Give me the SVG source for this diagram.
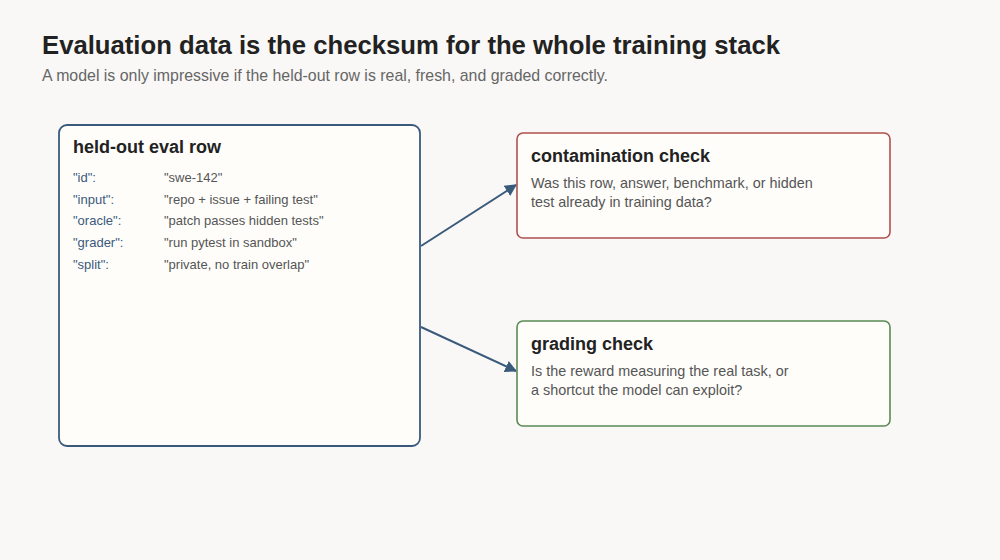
<svg xmlns="http://www.w3.org/2000/svg" width="1000" height="560" viewBox="0 0 1000 560">
<style>
text{font-family:"Liberation Sans",Arial,sans-serif}
.h{font-size:18px;font-weight:bold;fill:#222}
.k{font-size:13px;fill:#3a5a7c}
.v{font-size:13px;fill:#555}
.b{font-size:14.4px;fill:#555}
.e{stroke:#3a5a7c;stroke-width:2;fill:none;marker-end:url(#a)}
</style>
<defs><marker id="a" viewBox="0 0 10 10" refX="9" refY="5" markerWidth="6" markerHeight="6" orient="auto"><path d="M0,0L10,5L0,10z" fill="#3a5a7c"/></marker></defs>
<rect width="1000" height="560" fill="#f9f8f6"/>
<text x="42" y="54" style="font-size:25.7px;font-weight:bold;fill:#222">Evaluation data is the checksum for the whole training stack</text>
<text x="42" y="81" style="font-size:15.9px;fill:#666">A model is only impressive if the held-out row is real, fresh, and graded correctly.</text>
<g id="connectors">
<path class="e" d="M421,246L516,185"/>
<path class="e" d="M421,327L516,371"/>
</g>
<g id="row">
<rect x="59" y="125" width="361" height="321" rx="8" fill="#fefdfa" stroke="#3a5a7c" stroke-width="1.8"/>
<text x="73" y="153" class="h">held-out eval row</text>
<text x="73" y="182" class="k">"id":</text><text x="164" y="182" class="v">"swe-142"</text>
<text x="73" y="204" class="k">"input":</text><text x="164" y="204" class="v">"repo + issue + failing test"</text>
<text x="73" y="225" class="k">"oracle":</text><text x="164" y="225" class="v">"patch passes hidden tests"</text>
<text x="73" y="247" class="k">"grader":</text><text x="164" y="247" class="v">"run pytest in sandbox"</text>
<text x="73" y="269" class="k">"split":</text><text x="164" y="269" class="v">"private, no train overlap"</text>
</g>
<g id="contamination">
<rect x="517" y="133" width="373" height="105" rx="6" fill="#fefdfa" stroke="#b05050" stroke-width="1.6"/>
<text x="531" y="162" class="h">contamination check</text>
<text x="531" y="188" class="b">Was this row, answer, benchmark, or hidden</text>
<text x="531" y="207" class="b">test already in training data?</text>
</g>
<g id="grading">
<rect x="517" y="321" width="373" height="105" rx="6" fill="#fefdfa" stroke="#5a8a55" stroke-width="1.6"/>
<text x="531" y="350" class="h">grading check</text>
<text x="531" y="376" class="b">Is the reward measuring the real task, or</text>
<text x="531" y="395" class="b">a shortcut the model can exploit?</text>
</g>
</svg>
